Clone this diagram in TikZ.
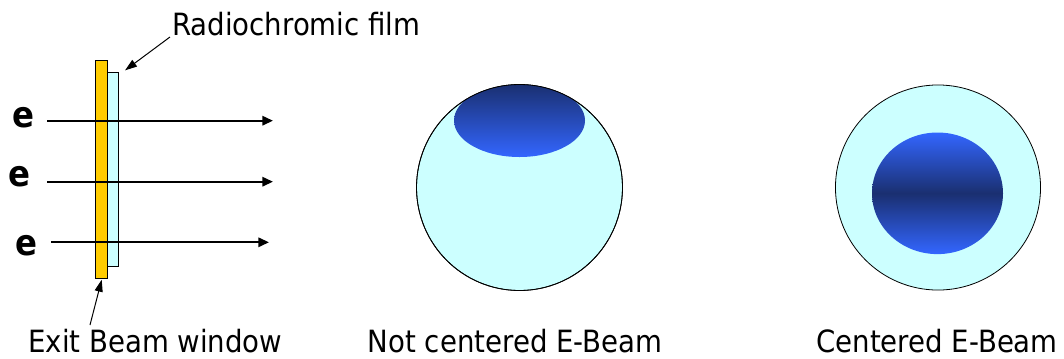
\documentclass[tikz,border=0pt]{standalone}
\usepackage{fontspec}
\setmainfont{DejaVu Sans Condensed}
\usetikzlibrary{arrows.meta, positioning, calc}
\definecolor{filmcyan}{RGB}{204,255,255}
\definecolor{winyellow}{RGB}{255,204,0}
\definecolor{beamnavy}{RGB}{26,47,112}
\definecolor{beamblue}{RGB}{51,102,255}
\pgfdeclareverticalshading{centerbeam}{100bp}{color(0bp)=(beamblue); color(25bp)=(beamblue); color(50bp)=(beamnavy); color(75bp)=(beamblue); color(100bp)=(beamblue)}

\begin{document}
\begin{tikzpicture}[x=0.75pt, y=-0.75pt,
  lbl/.style={font=\fontsize{23}{27}\selectfont, inner sep=0pt},
  elbl/.style={font=\fontsize{27}{30}\selectfont\bfseries, inner sep=0pt},
  beam/.style={line width=1.6pt, -{Triangle[length=8pt, width=7pt]}},
  pointer/.style={line width=0.75pt, -{Triangle[length=9pt, width=6pt]}},
  dish/.style={draw, line width=0.6pt, fill=filmcyan}]
  \useasboundingbox (0,0) rectangle (1064,358);

  % window and film
  \node[draw, line width=0.6pt, fill=filmcyan, minimum width=8.5pt, minimum height=145.3pt, inner sep=0pt] (film) at (113,169.2) {};
  \node[draw, line width=0.6pt, fill=winyellow, minimum width=9.2pt, minimum height=163.5pt, inner sep=0pt] (window) at (101.2,169) {};

  % electrons
  \node[elbl] (e1) at (23.5,118) {e};
  \node[elbl] (e2) at (19,177) {e};
  \node[elbl] (e3) at (26.5,245.5) {e};
  \foreach \i/\ys/\xs/\xe in {1/120.7/47/273, 2/181.7/47/273, 3/242.3/51/269} {
    \coordinate (bs\i) at (\xs,\ys);
    \coordinate (be\i) at (\xe,\ys);
    \draw[beam] (bs\i) -- (be\i);
  }

  % labels
  \node[lbl, anchor=base west] (filmlbl) at (172,35) {Radiochromic film};
  \node[lbl, anchor=base west] (winlbl) at (28,352) {Exit Beam window};
  \coordinate (filmtip) at ($(film.north east)+(6,-1.6)$);
  \coordinate (winfoot) at (90,325);
  \draw[pointer] ($(filmlbl.base west)+(-2,2)$) -- (filmtip);
  \draw[pointer] (winfoot) -- ($(window.south)+(0.5,1.3)$);

  % not centered beam
  \node[dish, circle, minimum size=154.5pt] (dishA) at (519.5,187.5) {};
  \begin{scope}
    \clip (519.5,187.5) circle[radius=103];
    \shade[top color=beamnavy, bottom color=beamblue] (519.5,120.5) ellipse[x radius=65.5, y radius=36.5];
  \end{scope}
  \draw[line width=0.6pt] (519.5,187.5) circle[radius=103];
  \node[lbl, anchor=base] (lblA) at (515,352) {Not centered E-Beam};

  % centered beam
  \node[dish, circle, minimum size=153.8pt] (dishB) at (938,187.5) {};
  \shade[shading=centerbeam] (937.5,193.3) ellipse[x radius=65.5, y radius=60.8];
  \node[lbl, anchor=base] (lblB) at (937,352) {Centered E-Beam};
\end{tikzpicture}
\end{document}
